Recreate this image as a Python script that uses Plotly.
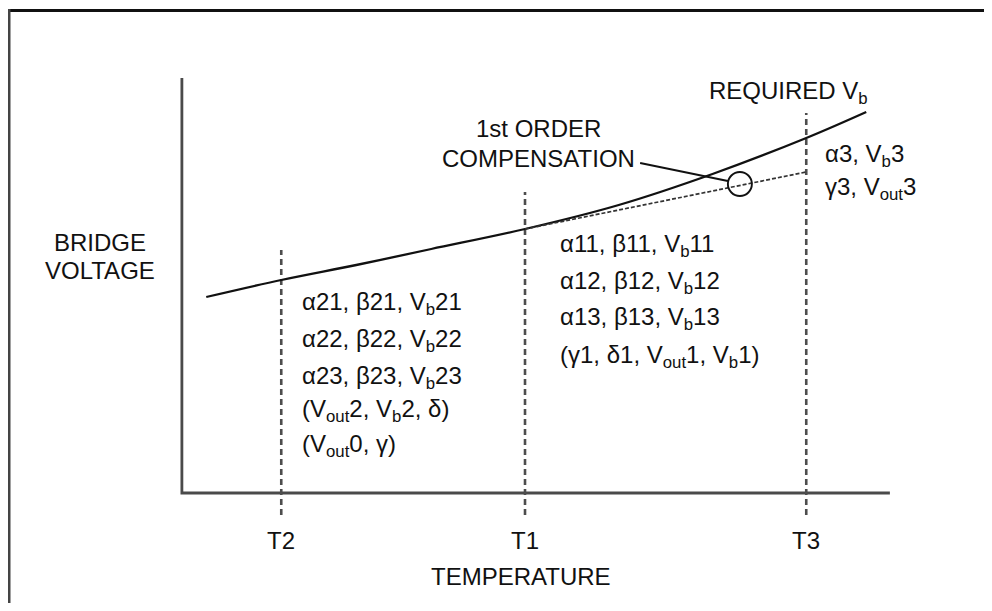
import plotly.graph_objects as go

# ---- data ----
T_LABELS = ["T2", "T1", "T3"]
T_VALUES = [-40, 25, 100]
T_LINE_TOPS = [2.43, 3.01, 3.80]

curve_temp = [-60, -40, -20, 0, 25, 50, 75, 100, 116]
curve_vb = [1.96, 2.13, 2.28, 2.44, 2.64, 2.88, 3.19, 3.55, 3.81]

comp_temp = [25, 100]
comp_vb = [2.64, 3.21]

circle_temp = [82.3]
circle_vb = [3.09]

leader_temp = [55.7, 79.1]
leader_vb = [3.30, 3.12]

axis_x_min, axis_x_max = -66.5, 122.3
axis_y_min, axis_y_max = 0.0, 4.15

left_block = ["α21, β21, V<sub>b</sub>21",
              "α22, β22, V<sub>b</sub>22",
              "α23, β23, V<sub>b</sub>23",
              "(V<sub>out</sub>2, V<sub>b</sub>2, δ)",
              "(V<sub>out</sub>0, γ)"]
left_block_y = [1.90, 1.53, 1.16, 0.83, 0.48]

mid_block = ["α11, β11, V<sub>b</sub>11",
             "α12, β12, V<sub>b</sub>12",
             "α13, β13, V<sub>b</sub>13",
             "(γ1, δ1, V<sub>out</sub>1, V<sub>b</sub>1)"]
mid_block_y = [2.48, 2.11, 1.75, 1.37]

right_block = ["α3, V<sub>b</sub>3", "γ3, V<sub>out</sub>3"]
right_block_y = [3.38, 3.05]

FONT = "Liberation Sans, Arial, sans-serif"
TXT = "#111111"
FS = 24

W, H = 976, 595  # page body has an 8px margin

fig = go.Figure()

# axes lines
fig.add_trace(go.Scatter(x=[axis_x_min, axis_x_min, axis_x_max],
                         y=[axis_y_max, axis_y_min, axis_y_min],
                         mode="lines", line=dict(color="#4a4a4a", width=2.8),
                         hoverinfo="skip"))

# dashed temperature lines
for t, top in zip(T_VALUES, T_LINE_TOPS):
    fig.add_trace(go.Scatter(x=[t, t], y=[-0.22, top], mode="lines",
                             line=dict(color="#4d4d4d", width=2.6, dash="6px,4px"),
                             hoverinfo="skip"))

# required Vb curve
fig.add_trace(go.Scatter(x=curve_temp, y=curve_vb, mode="lines",
                         line=dict(color="#111111", width=2.3, shape="spline"),
                         hoverinfo="skip"))

# first-order compensation line
fig.add_trace(go.Scatter(x=comp_temp, y=comp_vb, mode="lines",
                         line=dict(color="#333333", width=1.7, dash="4px,2px"),
                         hoverinfo="skip"))

# leader line
fig.add_trace(go.Scatter(x=leader_temp, y=leader_vb, mode="lines",
                         line=dict(color="#111111", width=1.9),
                         hoverinfo="skip"))

# circle
fig.add_trace(go.Scatter(x=circle_temp, y=circle_vb, mode="markers",
                         marker=dict(symbol="circle-open", size=24,
                                     color="#111111", line=dict(width=1.9)),
                         hoverinfo="skip"))

ann = []

def txt(x, y, s, xanchor="left"):
    ann.append(dict(x=x, y=y, xref="x", yref="y", text=s, showarrow=False,
                    xanchor=xanchor, yanchor="middle",
                    font=dict(family=FONT, size=FS, color=TXT)))

for s, y in zip(left_block, left_block_y):
    txt(-35, y, s)
for s, y in zip(mid_block, mid_block_y):
    txt(33.8, y, s)
for s, y in zip(right_block, right_block_y):
    txt(104.5, y, s)

txt(73.5, 4.01, "REQUIRED V<sub>b</sub>")
txt(28.7, 3.65, "1st ORDER", "center")
txt(28.7, 3.35, "COMPENSATION", "center")
txt(-88.3, 2.51, "BRIDGE", "center")
txt(-88.3, 2.23, "VOLTAGE", "center")
for lab, t in zip(T_LABELS, T_VALUES):
    txt(t, -0.47, lab, "center")
txt(24, -0.83, "TEMPERATURE", "center")

fig.update_layout(
    width=W, height=H,
    margin=dict(l=0, r=0, t=0, b=0),
    paper_bgcolor="white", plot_bgcolor="white",
    showlegend=False,
    xaxis=dict(range=[-112.87, 147.4], visible=False, domain=[0, 1]),
    yaxis=dict(range=[-1.10, 4.85], visible=False, domain=[0, 1]),
    annotations=ann,
    shapes=[
        dict(type="line", xref="paper", yref="paper",
             x0=0, x1=1, y0=1 - 2.5 / H, y1=1 - 2.5 / H,
             line=dict(color="#111111", width=3)),
        dict(type="line", xref="paper", yref="paper",
             x0=1 / W, x1=1 / W, y0=0, y1=1 - 1 / H,
             line=dict(color="#444444", width=3)),
    ],
)

fig.write_html("out.html")
